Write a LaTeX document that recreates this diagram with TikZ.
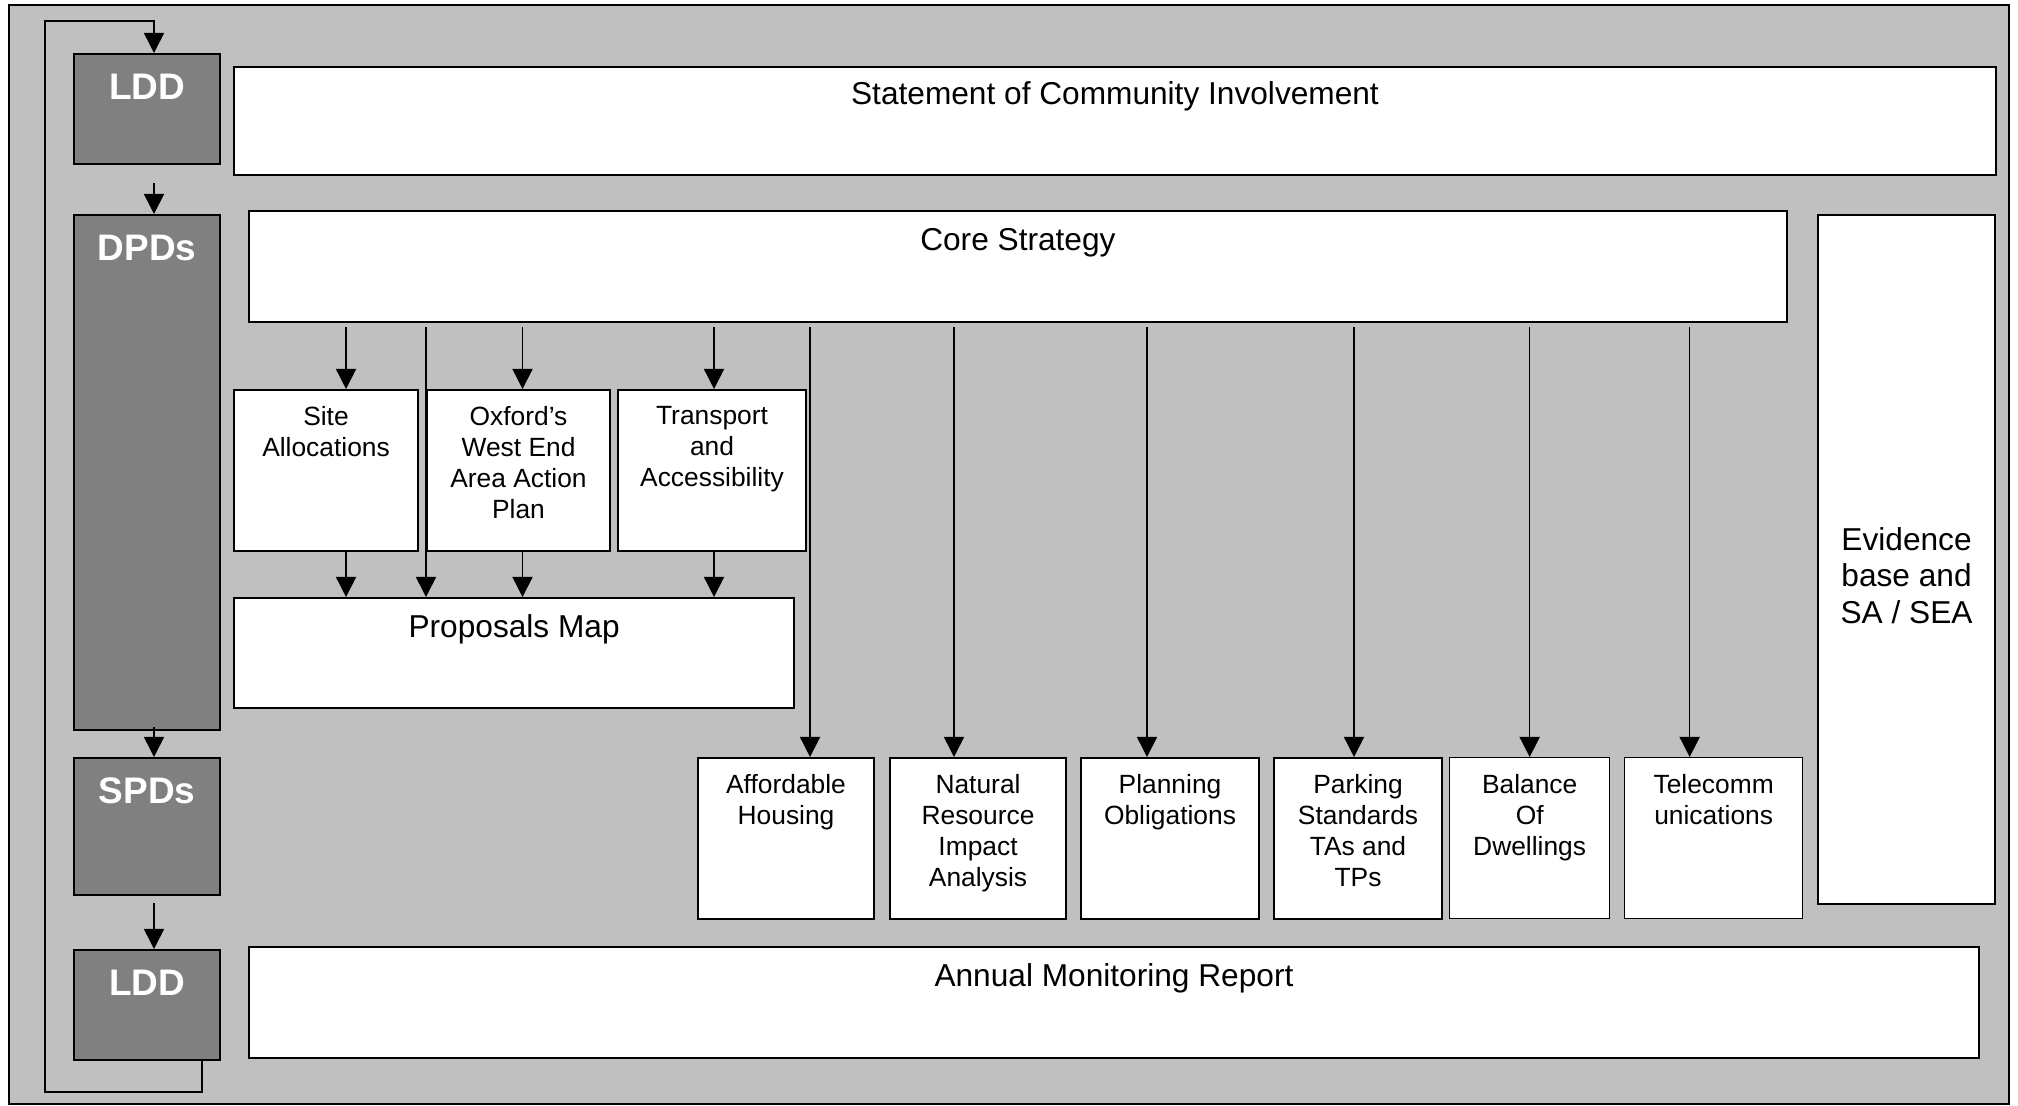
\documentclass[tikz,border=0pt]{standalone}
\usepackage{fontspec}
\setmainfont{Liberation Sans}
\usetikzlibrary{arrows.meta}
\definecolor{bggray}{RGB}{192,192,192}
\definecolor{docgray}{RGB}{128,128,128}
\begin{document}
\begin{tikzpicture}[x=0.01cm, y=-0.01cm,
    box/.style={draw, line width=0.55pt, fill=white, anchor=north west, inner sep=0pt},
    thinbox/.style={box, line width=0.35pt},
    docbox/.style={box, fill=docgray, minimum width=1.46cm},
    doctext/.style={anchor=north, inner sep=0pt, text=white, font=\fontsize{10.5}{12}\selectfont\bfseries},
    bigtext/.style={anchor=north, inner sep=0pt, align=center, font=\fontsize{9}{10.3}\selectfont},
    smalltext/.style={anchor=north, inner sep=0pt, align=center, font=\fontsize{7.5}{8.8}\selectfont},
    arr/.style={line width=0.45pt, -{Triangle[length=5.7pt, width=5.7pt]}}]
\useasboundingbox (0,0) rectangle (2018,1106);
\draw[line width=0.3pt, fill=bggray] (9,5) rectangle (2009,1104);

\node[docbox, minimum height=1.10cm] (lddtop) at (73,53) {};
\node[docbox, minimum height=5.15cm] (dpds) at (73,214) {};
\node[docbox, minimum height=1.37cm] (spds) at (73,757) {};
\node[docbox, minimum height=1.10cm] (lddbot) at (73,949) {};
    \node[doctext] (lddtoplbl) at ([yshift=-0.2cm]lddtop.north) {LDD};
    \node[doctext] (dpdslbl) at ([yshift=-0.2cm]dpds.north) {DPDs};
    \node[doctext] (spdslbl) at ([yshift=-0.2cm]spds.north) {SPDs};
    \node[doctext] (lddbotlbl) at ([yshift=-0.2cm]lddbot.north) {LDD};

\node[box, minimum width=17.61cm, minimum height=1.08cm] (sci) at (233,66) {};
\node[box, minimum width=15.37cm, minimum height=1.11cm] (core) at (248,210) {};
\node[box, minimum width=1.77cm, minimum height=6.89cm] (evidence) at (1817,214) {};
\node[box, minimum width=5.60cm, minimum height=1.10cm] (props) at (233,597) {};
\node[box, minimum width=17.29cm, minimum height=1.11cm] (amr) at (248,946) {};
    \node[bigtext] (scilbl) at ([yshift=-0.15cm]sci.north) {Statement of Community Involvement};
    \node[bigtext] (corelbl) at ([yshift=-0.18cm]core.north) {Core Strategy};
    \node[bigtext] (propslbl) at ([yshift=-0.17cm]props.north) {Proposals Map};
    \node[bigtext] (amrlbl) at ([yshift=-0.17cm]amr.north) {Annual Monitoring Report};
    \node[bigtext, anchor=center] (evidencelbl) at ([yshift=-0.16cm]evidence.center) {Evidence\\base and\\SA / SEA};

\node[box, minimum width=1.84cm, minimum height=1.61cm] (site) at (233,389) {};
\node[box, minimum width=1.83cm, minimum height=1.61cm] (oxford) at (426,389) {};
\node[box, minimum width=1.88cm, minimum height=1.61cm] (transport) at (617,389) {};
    \node[smalltext] (sitelbl) at ([yshift=-0.17cm]site.north) {Site\\Allocations};
    \node[smalltext] (oxfordlbl) at ([yshift=-0.17cm]oxford.north) {Oxford’s\\West End\\Area Action\\Plan};
    \node[smalltext] (transportlbl) at ([yshift=-0.17cm]transport.north) {Transport\\and\\Accessibility};

\node[box, minimum width=1.76cm, minimum height=1.61cm] (afford) at (697,757) {};
\node[box, minimum width=1.76cm, minimum height=1.61cm] (natural) at (889,757) {};
\node[box, minimum width=1.78cm, minimum height=1.61cm] (planning) at (1080,757) {};
\node[box, minimum width=1.68cm, minimum height=1.61cm] (parking) at (1273,757) {};
\node[thinbox, minimum width=1.60cm, minimum height=1.61cm] (balance) at (1449,757) {};
\node[thinbox, minimum width=1.78cm, minimum height=1.61cm] (telecomm) at (1624,757) {};
    \node[smalltext] (affordlbl) at ([yshift=-0.17cm]afford.north) {Affordable\\Housing};
    \node[smalltext] (naturallbl) at ([yshift=-0.17cm]natural.north) {Natural\\Resource\\Impact\\Analysis};
    \node[smalltext] (planninglbl) at ([yshift=-0.17cm]planning.north) {Planning\\Obligations};
    \node[smalltext] (parkinglbl) at ([yshift=-0.17cm]parking.north) {Parking\\Standards\\TAs and\\TPs};
    \node[smalltext] (balancelbl) at ([yshift=-0.17cm]balance.north) {Balance\\Of\\Dwellings};
    \node[smalltext] (telecommlbl) at ([yshift=-0.17cm]telecomm.north) {Telecomm\\unications};

\draw[arr] ([xshift=0.07cm,yshift=-0.18cm]lddtop.south) -- ([xshift=0.07cm]dpds.north);
\draw[arr] ([xshift=0.07cm,yshift=0.04cm]dpds.south) -- ([xshift=0.07cm]spds.north);
\draw[arr] ([xshift=0.07cm,yshift=-0.07cm]spds.south) -- ([xshift=0.07cm]lddbot.north);
\coordinate (loopbot) at (45,1092);
\coordinate (looptop) at (45,21);
\draw[arr] ([xshift=0.55cm]lddbot.south) |- (loopbot) -- (looptop) -| ([xshift=0.07cm]lddtop.north);

\foreach \b/\s in {site/0.2, oxford/0.04, transport/0.02}{
    \draw[arr, shorten <=0.04cm] ([xshift=\s cm]\b.north |- core.south) -- ([xshift=\s cm]\b.north);
    \draw[arr] ([xshift=\s cm]\b.south) -- ([xshift=\s cm]\b.south |- props.north);
}
\draw[arr, shorten <=0.04cm] (oxford.north west |- core.south) -- (oxford.north west |- props.north);

\foreach \b/\s in {afford/0.24, natural/-0.24, planning/-0.23, parking/-0.04, balance/0, telecomm/-0.24}{
    \draw[arr, shorten <=0.04cm] ([xshift=\s cm]\b.north |- core.south) -- ([xshift=\s cm]\b.north);
}
\end{tikzpicture}
\end{document}
